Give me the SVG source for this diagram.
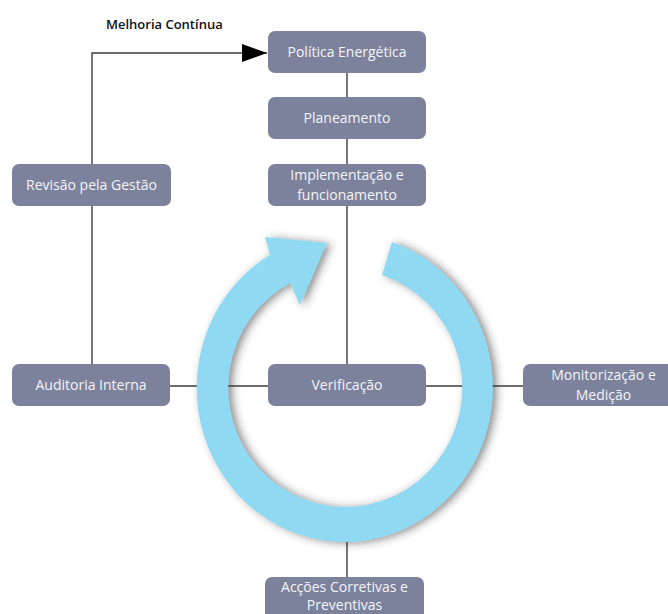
<svg xmlns="http://www.w3.org/2000/svg" width="668" height="614" viewBox="0 0 668 614">
  <style>
    .box { fill: #7c829b; }
    .lbl { font-family: "Open Sans", "Liberation Sans", sans-serif; font-size: 14px; fill: #f4f4f8; text-anchor: middle; }
    .edge { stroke: #3c3c3c; stroke-width: 1.4; fill: none; }
    .title { font-family: "Open Sans", "Liberation Sans", sans-serif; font-size: 13px; font-weight: 600; fill: #111; }
  </style>
  <defs>
    <marker id="arrowhead" markerUnits="userSpaceOnUse" markerWidth="26" markerHeight="20" refX="25" refY="9" orient="auto">
      <path d="M0,0 L25,9 L0,18 Z" fill="#000"/>
    </marker>
    <filter id="ringShadow" x="-20%" y="-20%" width="140%" height="140%">
      <feDropShadow dx="4" dy="1" stdDeviation="4" flood-color="#333" flood-opacity="0.55"/>
    </filter>
  </defs>

  <rect width="668" height="614" fill="#fff"/>

  <!-- connectors -->
  <g id="connectors">
    <polyline class="edge" points="92,164 92,53 267,53" marker-end="url(#arrowhead)"/>
    <line class="edge" x1="92" y1="206" x2="92" y2="364"/>
    <line class="edge" x1="347" y1="73" x2="347" y2="97"/>
    <line class="edge" x1="347" y1="139" x2="347" y2="164"/>
    <line class="edge" x1="347" y1="206" x2="347" y2="364"/>
    <line class="edge" x1="170" y1="386" x2="268" y2="386"/>
    <line class="edge" x1="426" y1="386" x2="523" y2="386"/>
    <line class="edge" x1="347" y1="530" x2="347" y2="577"/>
  </g>

  <!-- cycle arrow: elliptical band centred at (345,388) with an arrowhead at its upper-left end -->
  <g id="cycle" filter="url(#ringShadow)">
    <path fill="#8fd9f3" d="M392,242 A148,154 0 1 1 270,255 L265,237 L327,243 L300,305 L290,283 A117,119 0 1 0 382,275 Z"/>
  </g>

  <text class="title" x="106" y="29">Melhoria Contínua</text>

  <g id="politica">
    <rect class="box" x="268" y="31" width="158" height="42" rx="7"/>
    <text class="lbl" x="347" y="57">Política Energética</text>
  </g>
  <g id="planeamento">
    <rect class="box" x="268" y="97" width="158" height="42" rx="7"/>
    <text class="lbl" x="347" y="123">Planeamento</text>
  </g>
  <g id="implementacao">
    <rect class="box" x="268" y="164" width="158" height="42" rx="7"/>
    <text class="lbl" x="347" y="180">Implementação e</text>
    <text class="lbl" x="347" y="199.5">funcionamento</text>
  </g>
  <g id="revisao">
    <rect class="box" x="12" y="164" width="159" height="42" rx="7"/>
    <text class="lbl" x="91.5" y="190">Revisão pela Gestão</text>
  </g>
  <g id="auditoria">
    <rect class="box" x="12" y="364" width="158" height="42" rx="7"/>
    <text class="lbl" x="91" y="390">Auditoria Interna</text>
  </g>
  <g id="verificacao">
    <rect class="box" x="268" y="364" width="158" height="42" rx="7"/>
    <text class="lbl" x="347" y="390">Verificação</text>
  </g>
  <g id="monitorizacao">
    <rect class="box" x="523" y="364" width="162" height="42" rx="7"/>
    <text class="lbl" x="603.5" y="380">Monitorização e</text>
    <text class="lbl" x="603.5" y="399.5">Medição</text>
  </g>
  <g id="accoes">
    <rect class="box" x="265" y="577" width="159" height="44" rx="7"/>
    <text class="lbl" x="344.5" y="592">Acções Corretivas e</text>
    <text class="lbl" x="344.5" y="610">Preventivas</text>
  </g>
</svg>
